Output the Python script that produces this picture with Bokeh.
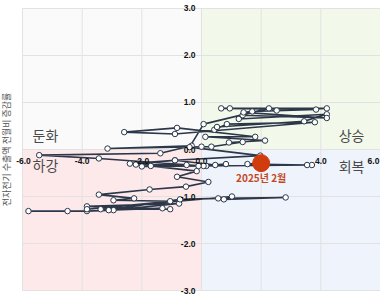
import math
from bokeh.plotting import figure
from bokeh.models import Range1d
from bokeh.core.properties import value
from bokeh.embed import file_html
from bokeh.resources import INLINE

# ---- data (x: 종합 지표, y: 전자전기 수출액 전월비 증감률) ----
x_vals = [-5.80, -4.49, -3.84, -2.95, -0.75, -3.84, -1.05, -3.38, -1.31, -3.11,
          -0.72, 0.56, 2.82, 0.75, 1.02, -3.84, -1.05, -2.95, -2.26, -3.44,
          -1.74, -0.52, 0.23, -0.82, -0.16, -2.40, -0.89, -2.20, -0.50, -2.00,
          0.16, -1.70, 0.07, -3.44, -5.44, -1.38, -0.33, -3.15, 0.00, 0.33,
          1.38, 0.92, 2.13, 0.13, 1.80, -0.82, -2.59, -0.89, 3.80, 0.85,
          0.43, 0.52, 3.44, 4.20, 1.25, 1.38, 4.20, 1.41, 1.70, 3.84,
          0.66, 0.95, 4.20, 2.52, 2.26, 0.07, -0.40, 1.97, -0.89, 0.46,
          0.82, -0.10, 3.70, 3.54, 1.54, 2.00]
y_vals = [-1.31, -1.31, -1.31, -1.29, -1.15, -1.21, -1.27, -1.27, -1.25, -1.29,
          -1.06, -1.04, -1.02, -1.06, -1.00, -1.27, -1.10, -1.08, -1.04, -0.96,
          -0.85, -0.79, -0.69, -0.58, -0.46, -0.30, -0.23, -0.32, -0.33, -0.36,
          -0.35, -0.35, -0.35, -0.19, -0.12, -0.08, 0.08, 0.02, 0.06, 0.06,
          0.16, 0.15, 0.19, 0.27, 0.27, 0.46, 0.37, 0.33, 0.58, 0.54,
          0.42, 0.48, 0.60, 0.75, 0.65, 0.73, 0.67, 0.79, 0.81, 0.85,
          0.875, 0.875, 0.875, 0.83, 0.875, 0.54, 0.05, -0.13, -0.23, -0.33,
          -0.31, -0.35, -0.33, -0.33, -0.31, -0.29]

x_ticks = [-6, -4, -2, 0, 2, 4, 6]
x_tick_labels = ["-6.0", "-4.0", "-2.0", "0.0", "2.0", "4.0", "6.0"]
y_ticks = [3, 2, 1, 0, -1, -2, -3]
y_tick_labels = ["3.0", "2.0", "1.0", "0.0", "-1.0", "-2.0", "-3.0"]

quad_names = ["둔화", "상승", "하강", "회복"]
quad_colors = ["#fafafa", "#f3f9ea", "#fde9e9", "#eef3fc"]
quad_edges = ["#ececec", "#e2efd3", "#f6d3d3", "#dde5f5"]
last_label = "2025년 2월"
y_title = "전자전기 수출액 전월비 증감률"

xmin, xmax = min(x_ticks), max(x_ticks)
ymin, ymax = min(y_ticks), max(y_ticks)

p = figure(width=380, height=295, output_backend="svg", toolbar_location=None,
           x_range=Range1d(-6.7375, 6.0), y_range=Range1d(-3.106, 3.170),
           min_border=0, min_border_left=0, min_border_right=0,
           min_border_top=0, min_border_bottom=0)
p.axis.visible = False
p.grid.visible = False
p.outline_line_color = None
p.background_fill_color = "white"
p.border_fill_color = "white"

# quadrants
p.quad(left=[xmin, 0, xmin, 0], right=[0, xmax, 0, xmax],
       bottom=[0, 0, ymin, ymin], top=[ymax, ymax, 0, 0],
       fill_color=quad_colors, line_color=quad_edges, line_width=1)

# grid lines
p.segment(x0=x_ticks, y0=[ymin] * len(x_ticks), x1=x_ticks, y1=[ymax] * len(x_ticks),
          line_color="#e2e2e2", line_width=1)
p.segment(x0=[xmin] * len(y_ticks), y0=y_ticks, x1=[xmax] * len(y_ticks), y1=y_ticks,
          line_color="#e2e2e2", line_width=1)

# series
p.line(x_vals, y_vals, line_color="#2c374a", line_width=1.6)
p.scatter(x_vals, y_vals, size=5.5, fill_color="white", line_color="#2c374a", line_width=1)

# tick labels
x_label_shift = [1, 0, 0, 0, 0, 0, -7]
p.text(x=x_ticks, y=[0] * len(x_ticks), text=x_tick_labels, y_offset=11, x_offset=x_label_shift,
       text_align="center", text_baseline="middle", text_font=value("Liberation Sans"),
       text_font_style="bold", text_font_size="8.5px", text_color="#111111")
p.text(x=[0] * len(y_ticks), y=y_ticks, text=y_tick_labels, x_offset=-6,
       text_align="right", text_baseline="middle", text_font=value("Liberation Sans"),
       text_font_style="bold", text_font_size="8.5px", text_color="#111111")

# last point highlight
p.scatter([x_vals[-1]], [y_vals[-1]], size=17, fill_color="#d13c0f", line_color="#d13c0f")
p.text(x=[x_vals[-1]], y=[y_vals[-1]], text=[last_label], y_offset=14,
       text_align="center", text_baseline="middle", text_font=value("Noto Sans CJK KR"),
       text_font_style="bold", text_font_size="10px", text_color="#c4481c")

# quadrant labels
p.text(x=[xmin, xmax, xmin, xmax], y=[0, 0, 0, 0], text=quad_names,
       x_offset=[10, -16, 10, -16], y_offset=[-15, -15, 15, 16],
       text_align=["left", "right", "left", "right"], text_baseline="middle",
       text_font=value("Noto Sans CJK KR"), text_font_size="14px", text_color="#4a4a4a")

# y title
p.text(x=[-6.52], y=[0], text=[y_title], angle=math.pi / 2,
       text_align="center", text_baseline="middle",
       text_font=value("Noto Sans CJK KR"), text_font_size="9px", text_color="#555555")

open("out.html", "w").write(file_html(p, INLINE))
